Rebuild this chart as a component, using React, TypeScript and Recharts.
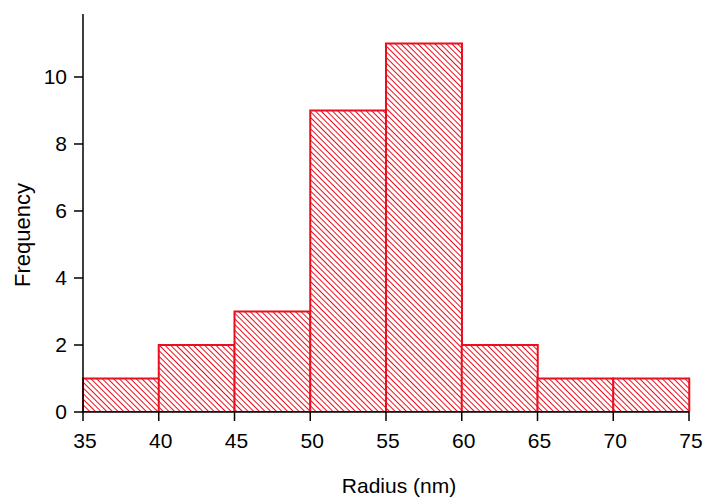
import React from 'react';
import { ComposedChart, Bar, XAxis, YAxis } from 'recharts';

const binStarts = [35, 40, 45, 50, 55, 60, 65, 70];
const binWidth = 5;
const counts = [1, 2, 3, 9, 11, 2, 1, 1];
const xTicks = [35, 40, 45, 50, 55, 60, 65, 70, 75];
const yTicks = [0, 2, 4, 6, 8, 10];

// bars sit on their bin midpoints on the numeric radius axis
const data = binStarts.map((start, i) => ({
  mid: start + binWidth / 2,
  count: counts[i],
}));

const RED = '#ea0f1e';
const FONT = '"Liberation Sans", Arial, Helvetica, sans-serif';

export default function App() {
  return (
    <div style={{ position: 'absolute', left: 0, top: 0, width: 706, height: 497, background: '#fff' }}>
      <ComposedChart
        width={706}
        height={497}
        data={data}
        barCategoryGap={0}
        margin={{ top: 14, right: 17, bottom: 0, left: 0 }}
      >
        <defs>
          <pattern id="hatch" patternUnits="userSpaceOnUse" width="4" height="4" patternTransform="rotate(-45)">
            <rect width="4" height="4" fill="#fff" />
            <line x1="0" y1="-1" x2="0" y2="5" stroke={RED} strokeWidth="2" shapeRendering="crispEdges" />
          </pattern>
        </defs>
        <XAxis
          dataKey="mid"
          type="number"
          domain={[35, 75]}
          ticks={xTicks}
          interval={0}
          height={85}
          axisLine={{ stroke: '#000', strokeWidth: 1.5 }}
          tickLine={{ stroke: '#000', strokeWidth: 1.5 }}
          tickSize={9}
          tickMargin={12}
          tick={{ fill: '#000', fontSize: 21, fontFamily: FONT, dx: 2 }}
          label={{ value: 'Radius (nm)', position: 'insideBottom', offset: 4, dx: 13, fill: '#000', fontSize: 21, fontFamily: FONT }}
        />
        <YAxis
          type="number"
          domain={[0, 11.88]}
          ticks={yTicks}
          allowDataOverflow
          width={83}
          axisLine={{ stroke: '#000', strokeWidth: 1.5 }}
          tickLine={{ stroke: '#000', strokeWidth: 1.5 }}
          tickSize={9}
          tickMargin={7}
          tick={{ fill: '#000', fontSize: 21, fontFamily: FONT }}
          label={{ value: 'Frequency', angle: -90, position: 'center', dx: -19, dy: 22, fill: '#000', fontSize: 22, fontFamily: FONT }}
        />
        <Bar
          dataKey="count"
          fill="url(#hatch)"
          stroke={RED}
          strokeWidth={2}
          isAnimationActive={false}
        />
      </ComposedChart>
    </div>
  );
}
